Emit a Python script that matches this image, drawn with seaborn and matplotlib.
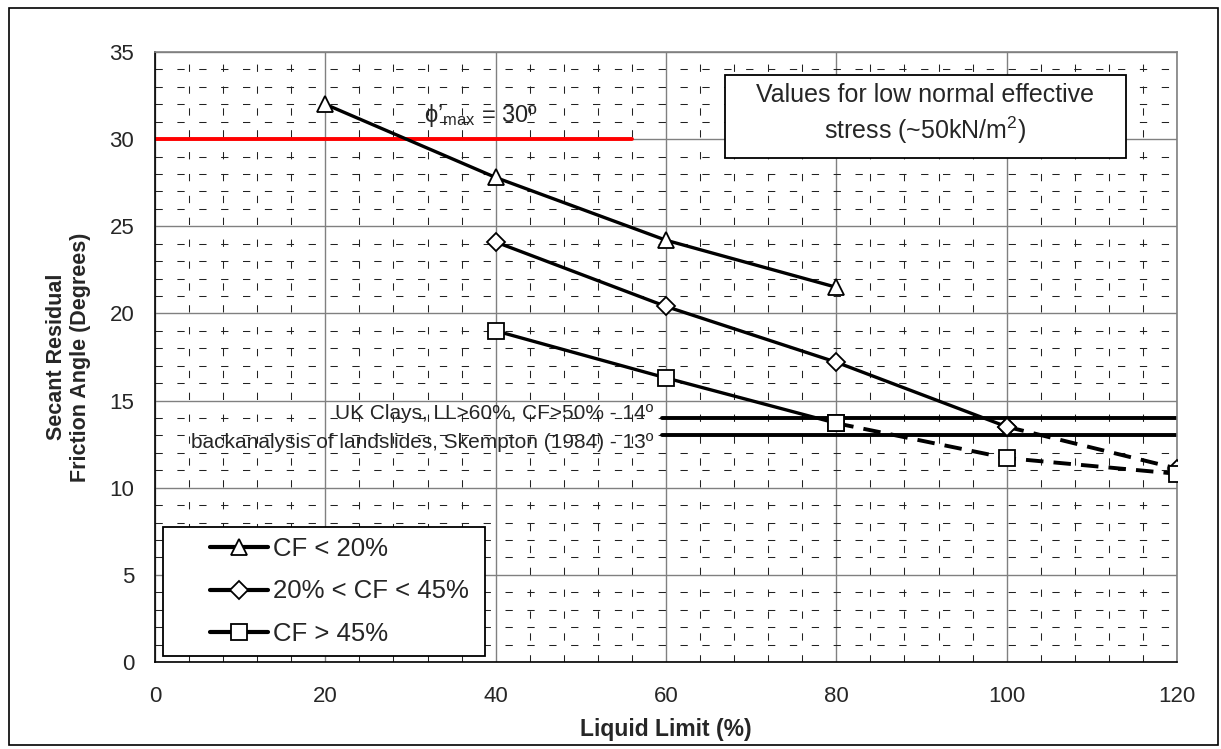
import matplotlib
matplotlib.use("Agg")
import matplotlib.pyplot as plt
import seaborn as sns
from matplotlib.patches import Rectangle
from matplotlib.ticker import MultipleLocator
from matplotlib.lines import Line2D

# ---------------- data ----------------
ll_low = [20, 40, 60, 80]
phi_low = [32.0, 27.8, 24.2, 21.5]

ll_mid = [40, 60, 80, 100]
phi_mid = [24.1, 20.4, 17.2, 13.5]
ll_mid_ext = [100, 120]
phi_mid_ext = [13.5, 11.1]

ll_high = [40, 60, 80]
phi_high = [19.0, 16.3, 13.7]
ll_high_ext = [80, 100, 120]
phi_high_ext = [13.7, 11.7, 10.8]

phi_max = 30
phi_max_ll = [0, 56]
uk_clays = 14
skempton = 13
ref_ll = [59.5, 120]

series_labels = ["CF < 20%", "20% < CF < 45%", "CF > 45%"]

# ---------------- style ----------------
sns.set_theme(style="white")
plt.rcParams["font.family"] = ["Liberation Sans", "DejaVu Sans"]
plt.rcParams["mathtext.fontset"] = "custom"
plt.rcParams["mathtext.rm"] = "Liberation Sans"
plt.rcParams["mathtext.it"] = "Liberation Sans:italic"

fig = plt.figure(figsize=(12.21, 7.49), dpi=100)
W, H = 1221, 749
ax = fig.add_axes([155 / W, 1 - 662 / H, (1177 - 155) / W, (662 - 52) / H])

ax.set_xlim(0, 120)
ax.set_ylim(0, 35)
ax.xaxis.set_major_locator(MultipleLocator(20))
ax.xaxis.set_minor_locator(MultipleLocator(4))
ax.yaxis.set_major_locator(MultipleLocator(5))
ax.yaxis.set_minor_locator(MultipleLocator(1))

ax.grid(which="major", color="#808080", linewidth=1.0, linestyle="-")
ax.grid(which="minor", color="#222222", linewidth=0.75, linestyle=(0, (7, 14)))
ax.set_axisbelow(True)

ax.tick_params(which="major", direction="out", length=7, width=1, color="black",
               labelsize=16, pad=8)
ax.tick_params(which="minor", direction="in", length=6, width=1, color="black")
ax.tick_params(axis="x", which="major", pad=10)

for s in ["left", "bottom"]:
    ax.spines[s].set_color("black")
    ax.spines[s].set_linewidth(1.2)
for s in ["top", "right"]:
    ax.spines[s].set_color("#808080")
    ax.spines[s].set_linewidth(1.2)

lw = 2.4
ms = 11
mk = dict(markerfacecolor="white", markeredgecolor="black", markeredgewidth=1.3)
dash = (0, (4.5, 2.6))

# reference lines
sns.lineplot(x=phi_max_ll, y=[phi_max] * 2, ax=ax, color="#ff0000", linewidth=2.8)
sns.lineplot(x=ref_ll, y=[uk_clays] * 2, ax=ax, color="black", linewidth=2.8)
sns.lineplot(x=ref_ll, y=[skempton] * 2, ax=ax, color="black", linewidth=2.8)

# dashed extrapolations
ax.plot(ll_mid_ext, phi_mid_ext, color="black", linewidth=2.8, linestyle=dash,
        marker="D", markersize=9, **mk, zorder=4)
ax.plot(ll_high_ext, phi_high_ext, color="black", linewidth=2.8, linestyle=dash,
        marker="s", markersize=ms, **mk, zorder=4)

# main series
sns.lineplot(x=ll_low, y=phi_low, ax=ax, color="black", linewidth=lw,
             marker="^", markersize=ms + 1, **mk, zorder=5)
sns.lineplot(x=ll_mid, y=phi_mid, ax=ax, color="black", linewidth=lw,
             marker="D", markersize=9, **mk, zorder=5)
sns.lineplot(x=ll_high, y=phi_high, ax=ax, color="black", linewidth=lw,
             marker="s", markersize=ms, **mk, zorder=5)

# labels
ax.set_xlabel("Liquid Limit (%)", fontsize=16.5, fontweight="bold", labelpad=8)
ax.set_ylabel("Secant Residual\nFriction Angle (Degrees)", fontsize=15.5,
              fontweight="bold", va="center", linespacing=1.2)
ax.yaxis.set_label_coords(-0.085, 0.5)

# annotations
ax.text(31.6, 30.98, "ϕ’$_{\\mathrm{max}}$ = 30º", fontsize=17, ha="left",
        va="baseline", family=["Liberation Sans", "DejaVu Sans"])
ax.text(58.47, 13.94, "UK Clays, LL>60%, CF>50% - 14º", fontsize=15,
        ha="right", va="baseline")
ax.text(58.47, 12.28, "backanalysis of landslides, Skempton (1984) - 13º", fontsize=15,
        ha="right", va="baseline")

# annotation box
ax.add_patch(Rectangle((66.9, 28.92), 114.0 - 66.9, 33.68 - 28.92, facecolor="white",
                       edgecolor="black", linewidth=1.3, zorder=6))
ax.text(90.45, 32.13, "Values for low normal effective", fontsize=18,
        ha="center", va="baseline", zorder=7)
ax.text(90.45, 30.0, "stress (~50kN/m$^{2}$)", fontsize=18,
        ha="center", va="baseline", zorder=7)

# legend box
ax.add_patch(Rectangle(((163 - 155) / 1022, (662 - 656) / 610), 322 / 1022, 129 / 610,
                       transform=ax.transAxes, facecolor="white", edgecolor="black",
                       linewidth=1.3, zorder=6))
handles = [
    Line2D([], [], color="black", linewidth=3.0, marker="^", markersize=ms + 1, **mk),
    Line2D([], [], color="black", linewidth=3.0, marker="D", markersize=9, **mk),
    Line2D([], [], color="black", linewidth=3.0, marker="s", markersize=ms, **mk),
]
leg = ax.legend(handles, series_labels, loc="upper left",
                bbox_to_anchor=((210 - 155) / 1022, (662 - 537) / 610),
                frameon=False, fontsize=18.5, handlelength=2.25, handletextpad=0.2,
                labelspacing=0.72, borderaxespad=0, borderpad=0)
leg.set_zorder(7)

# outer border
fig.patches.append(Rectangle((9 / W, 1 - 745 / H), (1218 - 9) / W, (745 - 8) / H,
                             transform=fig.transFigure, fill=False, edgecolor="black",
                             linewidth=1.2))

fig.savefig("out.png", dpi=100)
